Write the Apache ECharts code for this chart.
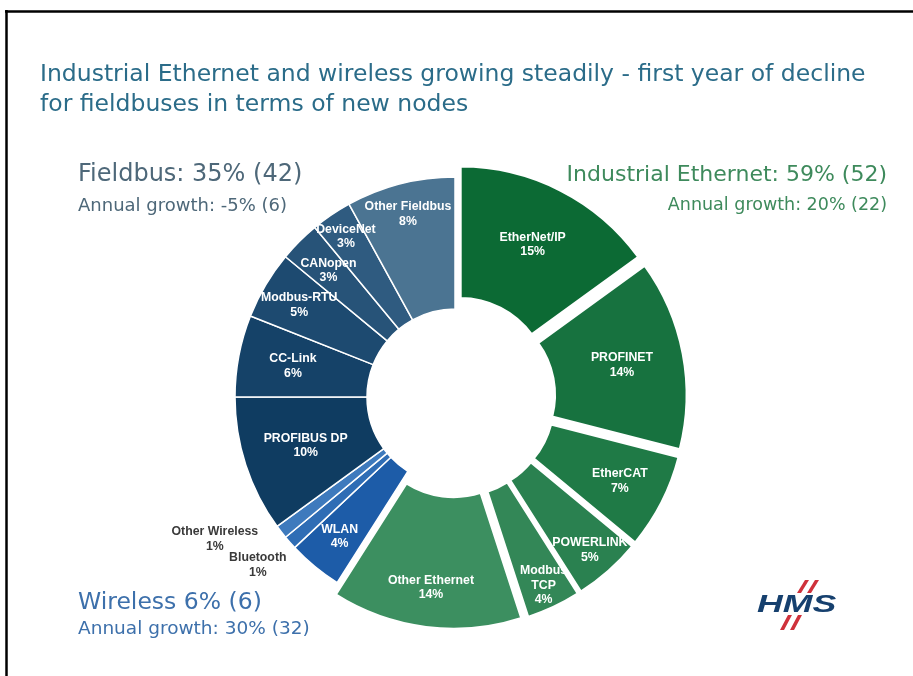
<!DOCTYPE html>
<html>
<head>
<meta charset="utf-8">
<script src="https://cdn.jsdelivr.net/npm/echarts@6/dist/echarts.min.js"></script>
<style>
html,body{margin:0;padding:0;background:#fff;}
#c{width:913px;height:676px;}
</style>
</head>
<body>
<div id="c"></div>
<script>
// ---- data ----
const categories = ['EtherNet/IP','PROFINET','EtherCAT','POWERLINK','Modbus TCP','Other Ethernet',
  'WLAN','Bluetooth','Other Wireless',
  'PROFIBUS DP','CC-Link','Modbus-RTU','CANopen','DeviceNet','Other Fieldbus'];
const shares = [15,14,7,5,4,14, 4,1,1, 10,6,5,3,3,8];
const groups = ['ethernet','ethernet','ethernet','ethernet','ethernet','ethernet',
  'wireless','wireless','wireless',
  'fieldbus','fieldbus','fieldbus','fieldbus','fieldbus','fieldbus'];
const titleLines = ['Industrial Ethernet and wireless growing steadily - first year of decline',
  'for fieldbuses in terms of new nodes'];
const fieldbusHead = ['Fieldbus: 35% (42)','Annual growth: -5% (6)'];
const ethernetHead = ['Industrial Ethernet: 59% (52)','Annual growth: 20% (22)'];
const wirelessHead = ['Wireless 6% (6)','Annual growth: 30% (32)'];
const logoText = 'HMS';

// ---- style ----
const colors = ['#0c6a34','#17723f','#1f7a46','#2a8150','#338757','#3c8f60',
  '#1d5ca8','#2f6db5','#3e7abd',
  '#0f3c61','#154268','#1d4a70','#275378','#2f5b80','#4b7492'];
const labelShiftR = [2,1,16,35,39,23, 24,102,122, 0,8,24,22,37,32];
const labelShiftA = [0,0,0,0,0,0, 0,1,7.3, 0,0,0,0,0,0];
const outsideDark = {7:true, 8:true};
const CX = 455, CY = 397, R0 = 88, R1 = 220, RM = (R0+R1)/2;

const total = shares.reduce((a,b)=>a+b,0);
const bis = [];
{ let acc = 0; shares.forEach(v => { bis.push((acc + v/2)/total*360); acc += v; }); }

const labelText = categories.map(n => n === 'Modbus TCP' ? 'Modbus\nTCP' : n);

const data = categories.map((n,i) => ({
  name: n,
  value: shares[i],
  selected: groups[i] === 'ethernet',
  itemStyle: {color: colors[i], borderWidth: groups[i] === 'ethernet' ? 2.5 : 1.5},
  label: outsideDark[i] ? {color:'#3a3a3a'} : {}
}));

const chart = echarts.init(document.getElementById('c'), null, {renderer:'canvas'});
const ff = '"DejaVu Sans", sans-serif';
const lf = '"Liberation Sans", Arial, sans-serif';
chart.setOption({
  animation: false,
  series: [{
    type: 'pie',
    center: [CX, CY],
    radius: [R0, R1],
    startAngle: 90,
    clockwise: true,
    selectedMode: 'multiple',
    selectedOffset: 12,
    avoidLabelOverlap: false,
    emphasis: {disabled: true},
    itemStyle: {borderColor:'#ffffff', borderWidth: 1.5},
    label: {
      show: true,
      position: 'inside',
      color: '#ffffff',
      fontFamily: lf,
      fontWeight: 'bold',
      fontSize: 12.3,
      lineHeight: 14.5,
      align: 'center',
      formatter: p => labelText[p.dataIndex] + '\n' + p.value + '%'
    },
    labelLine: {show: false},
    labelLayout: function (p) {
      const i = p.dataIndex;
      const a0 = bis[i] * Math.PI/180;
      const a1 = (bis[i] + labelShiftA[i]) * Math.PI/180;
      const r1 = RM + labelShiftR[i];
      return {
        dx: r1*Math.sin(a1) - RM*Math.sin(a0),
        dy: -r1*Math.cos(a1) + RM*Math.cos(a0)
      };
    },
    data: data
  }],
  graphic: [
    {type:'line', shape:{x1:5, y1:11.5, x2:913, y2:11.5}, style:{stroke:'#000', lineWidth:2.5}},
    {type:'line', shape:{x1:6.5, y1:10, x2:6.5, y2:676}, style:{stroke:'#000', lineWidth:2.5}},
    {type:'text', left:40, top:60, style:{text: titleLines.join('\n'), fill:'#2b6c89', font:'23.5px '+ff, lineHeight:30}},
    {type:'text', left:78, top:163, style:{text: fieldbusHead[0], fill:'#4e6879', font:'24px '+ff}},
    {type:'text', left:78, top:197, style:{text: fieldbusHead[1], fill:'#4e6879', font:'18px '+ff}},
    {type:'text', right:26, top:164, style:{text: ethernetHead[0], fill:'#3e8a5c', font:'22px '+ff, textAlign:'right'}},
    {type:'text', right:26, top:196, style:{text: ethernetHead[1], fill:'#3e8a5c', font:'17.5px '+ff, textAlign:'right'}},
    {type:'text', left:78, top:591, style:{text: wirelessHead[0], fill:'#3d70ab', font:'23.5px '+ff}},
    {type:'text', left:78, top:620, style:{text: wirelessHead[1], fill:'#3d70ab', font:'18.5px '+ff}},
    {type:'text', x:757, y:594, scaleX:1.55, style:{text: logoText, fill:'#16406e', font:'italic bold 23px '+lf, textVerticalAlign:'top'}},
    {type:'polygon', shape:{points:[[797,593],[801,593],[809,580],[805,580]]}, style:{fill:'#cf313b'}},
    {type:'polygon', shape:{points:[[807,593],[811,593],[819,580],[815,580]]}, style:{fill:'#cf313b'}},
    {type:'polygon', shape:{points:[[780,630],[784,630],[792,615],[788,615]]}, style:{fill:'#cf313b'}},
    {type:'polygon', shape:{points:[[790,630],[794,630],[802,615],[798,615]]}, style:{fill:'#cf313b'}}
  ]
});
</script>
</body>
</html>
